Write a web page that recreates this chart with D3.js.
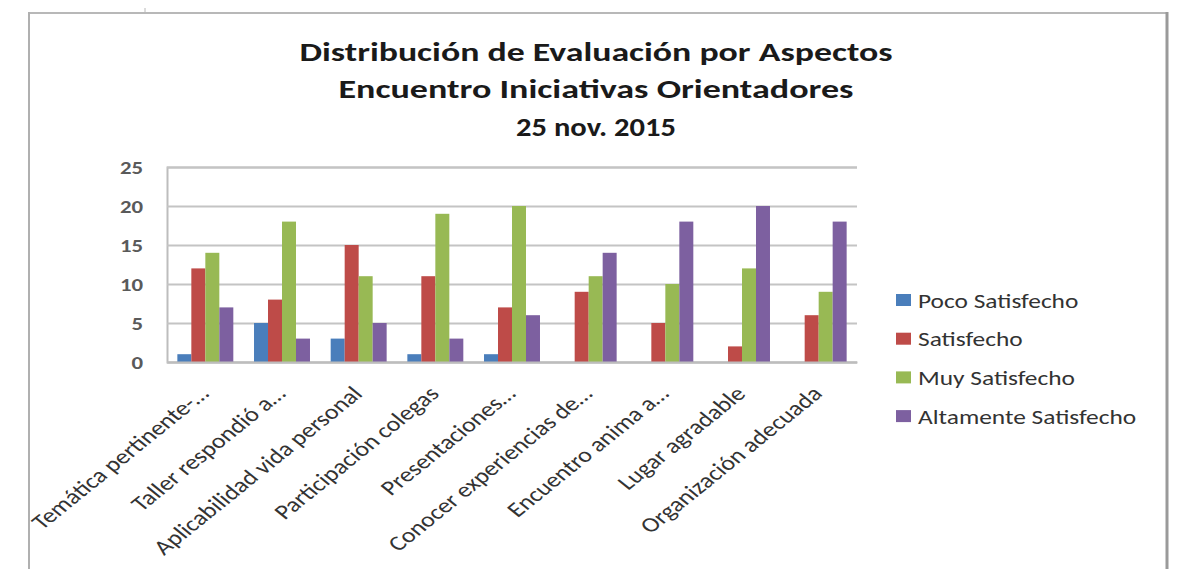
<!DOCTYPE html>
<html>
<head>
<meta charset="utf-8">
<script src="https://cdn.jsdelivr.net/npm/d3@7"></script>
<style>
  html, body { margin: 0; padding: 0; background: #fff; }
  svg { display: block; font-family: Carlito, Lato, "Open Sans", sans-serif; }
</style>
</head>
<body>
<svg id="chart" width="1182" height="569"></svg>
<script>
// ---- data ----
const categories = [
  "Temática pertinente-…",
  "Taller respondió a…",
  "Aplicabilidad vida personal",
  "Participación colegas",
  "Presentaciones…",
  "Conocer experiencias de…",
  "Encuentro anima a…",
  "Lugar agradable",
  "Organización adecuada"
];
const seriesNames = ["Poco Satisfecho", "Satisfecho", "Muy Satisfecho", "Altamente Satisfecho"];
const pocoSatisfecho      = [1, 5, 3, 1, 1, 0, 0, 0, 0];
const satisfecho          = [12, 8, 15, 11, 7, 9, 5, 2, 6];
const muySatisfecho       = [14, 18, 11, 19, 20, 11, 10, 12, 9];
const altamenteSatisfecho = [7, 3, 5, 3, 6, 14, 18, 20, 18];
const yTicks = [0, 5, 10, 15, 20, 25];
const titleLines = [
  "Distribución de Evaluación por Aspectos",
  "Encuentro Iniciativas Orientadores",
  "25 nov. 2015"
];
const seriesValues = [pocoSatisfecho, satisfecho, muySatisfecho, altamenteSatisfecho];
const colors = ["#4a7ebb", "#be4b48", "#98b954", "#7d60a0"];

// ---- layout ----
const svg = d3.select("#chart");
const plot = { left: 167, right: 857, top: 167, bottom: 362 };
const kx = 1.24; // horizontal stretch of the source image's text

// outer frame
svg.append("line").attr("x1", 28).attr("x2", 1168).attr("y1", 13).attr("y2", 13)
  .attr("stroke", "#b8b8b8").attr("stroke-width", 2);
svg.append("line").attr("x1", 29).attr("x2", 29).attr("y1", 12).attr("y2", 569)
  .attr("stroke", "#b0b0b0").attr("stroke-width", 2);
svg.append("line").attr("x1", 1167).attr("x2", 1167).attr("y1", 12).attr("y2", 569)
  .attr("stroke", "#9a9a9a").attr("stroke-width", 3);
svg.append("line").attr("x1", 145).attr("x2", 145).attr("y1", 8).attr("y2", 13)
  .attr("stroke", "#b8b8b8").attr("stroke-width", 1);

// title
const titleBaselines = [61, 98, 136];
const titleWidths = [593, 515, 160];
titleLines.forEach((t, i) => {
  svg.append("text")
    .attr("x", 596).attr("y", titleBaselines[i])
    .attr("text-anchor", "middle")
    .attr("font-size", 27).attr("font-weight", "bold")
    .attr("fill", "#1a1a1a")
    .attr("textLength", titleWidths[i])
    .attr("lengthAdjust", "spacingAndGlyphs")
    .text(t);
});

// scales
const x0 = d3.scaleBand().domain(categories).range([plot.left, plot.right]).padding(0);
const x1 = d3.scaleBand().domain(seriesNames)
  .range([x0.bandwidth() * 0.135, x0.bandwidth() * 0.865]).padding(0);
const y = d3.scaleLinear().domain([0, 25]).range([plot.bottom, plot.top]);

// gridlines + y labels
const yAxis = d3.axisLeft(y).tickValues(yTicks).tickSize(-(plot.right - plot.left)).tickPadding(0);
const gy = svg.append("g").attr("transform", `translate(${plot.left},0)`).call(yAxis);
gy.select(".domain").attr("stroke", "#bdbdbd").attr("stroke-width", 2);
gy.selectAll(".tick line").attr("stroke", "#c4c4c4").attr("stroke-width", 2);
gy.selectAll(".tick text")
  .attr("x", 0)
  .attr("transform", `translate(-24,0) scale(1.2,1)`)
  .attr("font-size", 19).attr("fill", "#5a5a5a")
  .attr("font-family", "Carlito, Lato, sans-serif").attr("font-weight", "bold");

// bars
const groups = svg.append("g").selectAll("g")
  .data(categories).join("g")
  .attr("transform", d => `translate(${x0(d)},0)`);
groups.selectAll("rect")
  .data((d, i) => seriesNames.map((s, j) => ({ s, v: seriesValues[j][i], c: colors[j] })))
  .join("rect")
  .attr("x", d => x1(d.s))
  .attr("width", x1.bandwidth())
  .attr("y", d => y(d.v))
  .attr("height", d => y(0) - y(d.v))
  .attr("fill", d => d.c);

// x axis baseline
const xAxis = d3.axisBottom(x0).tickSize(0).tickFormat("");
const gx = svg.append("g").attr("transform", `translate(0,${plot.bottom})`).call(xAxis);
gx.select(".domain").attr("stroke", "#bdbdbd").attr("stroke-width", 2);

// x labels, rotated 45° in the (stretched) source
svg.append("g").selectAll("text")
  .data(categories).join("text")
  .attr("transform", d => `translate(${x0(d) + x0.bandwidth() / 2 + 5},${plot.bottom + 33}) scale(${kx},1) rotate(-45)`)
  .attr("text-anchor", "end")
  .attr("font-size", 21)
  .attr("fill", "#333")
  .text(d => d);

// legend
const legend = svg.append("g").attr("transform", "translate(896,300)");
seriesNames.forEach((s, i) => {
  const g = legend.append("g").attr("transform", `translate(0,${i * 38.7})`);
  g.append("rect").attr("x", 0).attr("y", -6).attr("width", 15).attr("height", 12).attr("fill", colors[i]);
  g.append("text")
    .attr("transform", `translate(22,7.5) scale(1.27,1)`)
    .attr("font-size", 20).attr("fill", "#333").text(s);
});
</script>
</body>
</html>
